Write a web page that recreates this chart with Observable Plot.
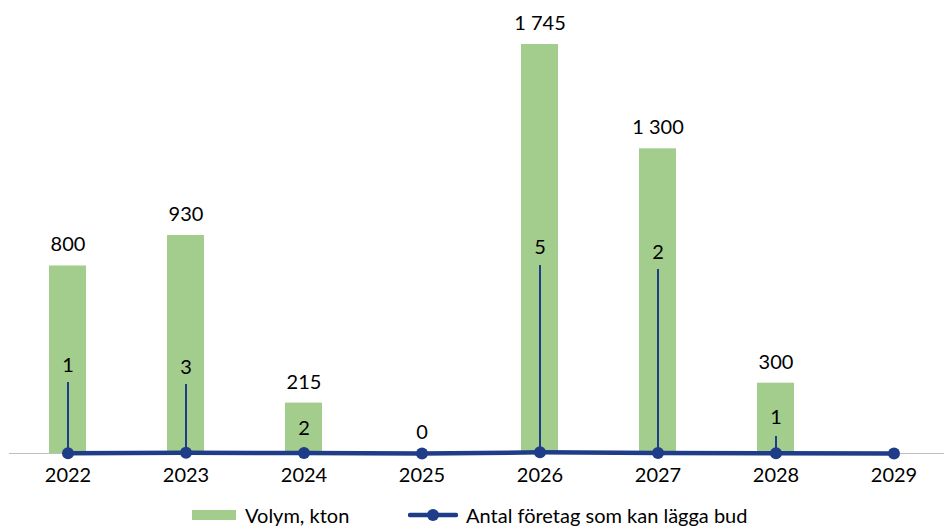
<!DOCTYPE html>
<html>
<head>
<meta charset="utf-8">
<script src="https://cdn.jsdelivr.net/npm/d3@7"></script>
<script src="https://cdn.jsdelivr.net/npm/@observablehq/plot@0.6"></script>
<style>
  body { margin: 0; background: #fff; font-family: Lato, "Open Sans", sans-serif; }
  #wrap { position: relative; width: 944px; height: 526px; }
  #legend { position: absolute; left: 0; top: 502px; width: 944px; height: 26px; font-size: 20px; color: #000; }
  .lg { position: absolute; top: 0; height: 26px; line-height: 26px; white-space: nowrap; }
</style>
</head>
<body>
<div id="wrap">
  <div id="chart"></div>
  <div id="legend">
    <svg class="lg" style="left:192px" width="44" height="26"><rect x="0" y="8" width="44" height="10" fill="#A3CD8C"></rect></svg>
    <span class="lg" style="left:245px">Volym, kton</span>
    <svg class="lg" style="left:408px" width="50" height="26"><line x1="2" y1="13" x2="48" y2="13" stroke="#1F3C88" stroke-width="4.5" stroke-linecap="round"></line><circle cx="25" cy="13" r="6" fill="#1F3C88"></circle></svg>
    <span class="lg" style="left:466px">Antal företag som kan lägga bud</span>
  </div>
</div>
<script>
// ---- data ----
const years = ["2022", "2023", "2024", "2025", "2026", "2027", "2028", "2029"];
const volume = [800, 930, 215, 0, 1745, 1300, 300, null];
const companies = [1, 3, 2, 0, 5, 2, 1, 0];

// ---- layout of the moved count labels (in volume-axis units) ----
const countLabelAt = [375, 367, 107, null, 879, 858, 154, null];
const leaderTopAt = [303, 294, null, null, 802, 785, 73, null];

const GREEN = "#A3CD8C";
const NAVY = "#1F3C88";

const rows = years.map((y, i) => ({
  year: y, volume: volume[i], count: companies[i],
  labelY: countLabelAt[i], leaderTop: leaderTopAt[i]
}));
const barRows = rows.filter(d => d.volume != null);
const fmt = d3.formatLocale({decimal: ",", thousands: "\u00a0", grouping: [3], currency: ["", ""]}).format(",d");

const chart = Plot.plot({
  width: 944,
  height: 495,
  marginLeft: 9,
  marginRight: 0,
  marginTop: 0,
  marginBottom: 42,
  style: {fontFamily: "Lato, 'Open Sans', sans-serif", fontSize: "20px", color: "#000", background: "#fff", overflow: "visible"},
  x: {type: "band", domain: years, range: [9, 953], paddingInner: 0.686, paddingOuter: 0.343, label: null},
  y: {domain: [0, 1745], range: [453, 44], axis: null},
  marks: [
    Plot.barY(barRows, {x: "year", y: "volume", fill: GREEN}),
    Plot.ruleY([0], {stroke: "#BFBFBF", strokeWidth: 1.2}),
    Plot.ruleX(rows.filter(d => d.leaderTop != null), {x: "year", y1: "count", y2: "leaderTop", stroke: NAVY, strokeWidth: 2}),
    Plot.line(rows, {x: "year", y: "count", stroke: NAVY, strokeWidth: 4.5, curve: "linear"}),
    Plot.dot(rows, {x: "year", y: "count", r: 6, fill: NAVY, stroke: null}),
    Plot.text(barRows, {x: "year", y: "volume", text: d => fmt(d.volume), dy: -21, fontSize: 20, fill: "#000"}),
    Plot.text(rows.filter(d => d.labelY != null), {x: "year", y: "labelY", text: d => String(d.count), fontSize: 20, fill: "#000"}),
    Plot.axisX({tickSize: 0, tickPadding: 14, fontSize: 20, fill: "#000"})
  ]
});
document.getElementById("chart").appendChild(chart);
</script>
</body>
</html>
